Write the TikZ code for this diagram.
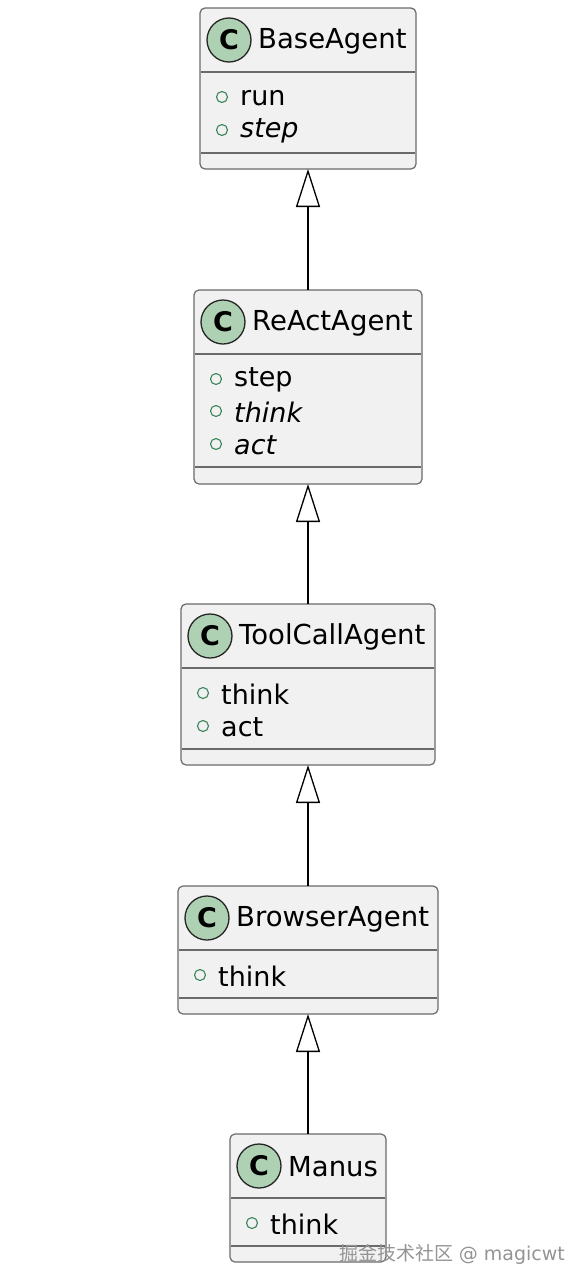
\documentclass[tikz,border=0pt]{standalone}
\usepackage{fontspec}
\newfontfamily\dv{DejaVu Sans}
\newfontfamily\cjk{Noto Sans CJK SC}
\usetikzlibrary{arrows.meta}
\definecolor{boxfill}{HTML}{F1F1F1}
\definecolor{boxline}{HTML}{6A6A6A}
\definecolor{badgefill}{HTML}{ADD1B2}
\definecolor{memgreen}{HTML}{38855A}
\tikzset{
  x=1pt, y=-1pt,
  classbox/.style={draw=boxline, fill=boxfill, line width=1.2pt, rounded corners=5pt,
    anchor=north west, inner sep=0pt, outer sep=0pt},
  badgestyle/.style={circle, draw=black!85, line width=1.3pt, fill=badgefill, minimum size=44pt,
    inner sep=0pt, font=\dv\bfseries\fontsize{27}{27}\selectfont},
  titletext/.style={anchor=west, inner sep=0pt, font=\dv\fontsize{27.5}{27.5}\selectfont},
  memtext/.style={anchor=west, inner sep=0pt, font=\dv\fontsize{27}{27}\selectfont},
  memdot/.style={circle, draw=memgreen, line width=1.1pt, minimum size=11pt, inner sep=0pt},
  sepline/.style={draw=boxline, line width=1.2pt},
  inherit/.style={draw=black, line width=1.3pt,
    -{Triangle[open, length=38pt, width=24pt, line width=1.3pt, fill=white]}},
  watermark/.style={anchor=west, inner sep=0pt, text=black!42, font=\fontsize{19}{19}\selectfont}
}
% #1 name, #2 left, #3 top, #4 right, #5 bottom, #6 title, #7 header line y, #8 bottom line y
\newcommand\umlbox[8]{%
  \node[classbox, minimum width=#4-#2, minimum height=#5-#3] (#1) at (#2,#3) {};
  \node[badgestyle] (#1-badge) at ({#2+29},{#3+32}) {C};
  \node[titletext] (#1-title) at ({#2+58},{#3+33}) {#6};
  \draw[sepline] ({#2+1},#7) -- ({#4-1},#7);
  \draw[sepline] ({#2+1},#8) -- ({#4-1},#8);
}
% #1 name, #2 left, #3 y, #4 text
\newcommand\umlmember[4]{%
  \node[memdot] (#1-dot) at ({#2+22},#3) {};
  \node[memtext] (#1-text) at ({#2+40},{#3+1}) {#4};
}
\begin{document}
\begin{tikzpicture}
\useasboundingbox[fill=white] (0,0) rectangle (584,1288);

\umlbox{base}{200}{8}{416}{169}{BaseAgent}{72}{153}
\umlmember{base-m1}{200}{97}{run}
\umlmember{base-m2}{200}{130}{\itshape step}

\umlbox{react}{194}{290}{422}{484}{ReActAgent}{354}{467}
\umlmember{react-m1}{194}{379}{step}
\umlmember{react-m2}{194}{411}{\itshape think}
\umlmember{react-m3}{194}{444}{\itshape act}

\umlbox{tool}{181}{604}{435}{765}{ToolCallAgent}{668}{749}
\umlmember{tool-m1}{181}{693}{think}
\umlmember{tool-m2}{181}{726}{act}

\umlbox{browser}{178}{886}{438}{1014}{BrowserAgent}{950}{998}
\umlmember{browser-m1}{178}{975}{think}

\umlbox{manus}{230}{1134}{386}{1262}{Manus}{1198}{1246}
\umlmember{manus-m1}{230}{1223}{think}

\draw[inherit] (react.north) -- (base.south);
\draw[inherit] (tool.north) -- (react.south);
\draw[inherit] (browser.north) -- (tool.south);
\draw[inherit] (manus.north) -- (browser.south);

\node[watermark] (wm) at (339,1254) {{\cjk 掘金技术社区} {\dv @ magicwt}};
\end{tikzpicture}
\end{document}
